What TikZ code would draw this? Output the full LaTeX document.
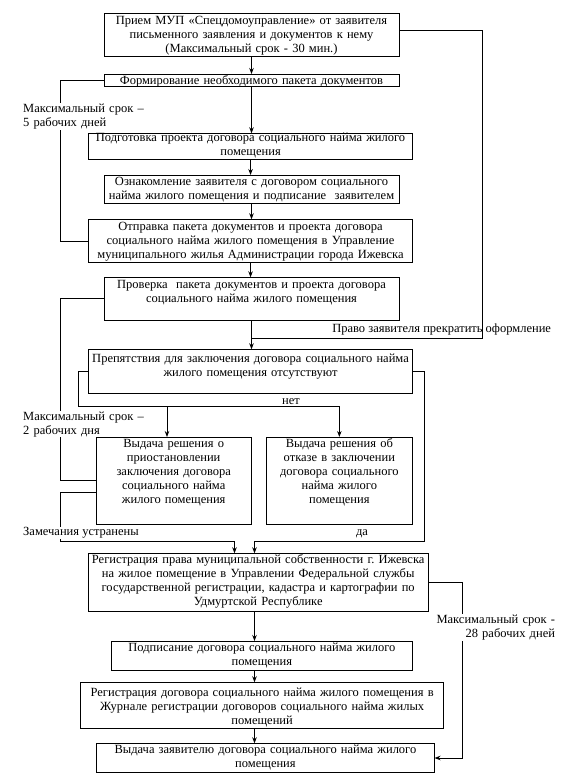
\documentclass[tikz,border=0pt]{standalone}
\usepackage{fontspec}
\setmainfont{Liberation Serif}
\usetikzlibrary{arrows.meta}
\newlength{\du}
\setlength{\du}{1pt}
\tikzset{
  blk/.style={draw, line width=0.9pt, align=center, anchor=north west,
    inner sep=0pt, outer sep=0pt, font=\fontsize{12.5}{14}\selectfont},
  note/.style={inner sep=0.5pt, font=\fontsize{12.5}{14}\selectfont},
  ln/.style={line width=0.9pt},
  arr/.style={ln, -{Stealth[length=6pt,width=4.5pt]}},
}

\begin{document}
\begin{tikzpicture}
\pgftransformyscale{-1.000000}
\useasboundingbox (0\du,0\du) rectangle (571\du,780\du);
% boxes
\node[blk, text width=295\du, text height=11\du, text depth=31.7\du] (b1) at (104\du,13.3\du)
  {Прием МУП «Спецдомоуправление» от заявителя\\письменного заявления и документов к нему\\(Максимальный срок - 30 мин.)};
\node[blk, text width=295\du, text height=10\du, text depth=2.7\du] (b2) at (104\du,74\du)
  {Формирование необходимого пакета документов};
\node[blk, text width=324.3\du, text height=8\du, text depth=17.7\du] (b3) at (88.4\du,133.3\du)
  {Подготовка проекта договора социального найма жилого\\помещения};
\node[blk, text width=295\du, text height=10.8\du, text depth=17.5\du] (b4) at (104\du,175\du)
  {Ознакомление заявителя с договором социального\\найма жилого помещения и подписание~ заявителем};
\node[blk, text width=324.3\du, text height=11\du, text depth=32.4\du] (b5) at (88.4\du,219.3\du)
  {Отправка пакета документов и проекта договора\\социального найма жилого помещения в Управление\\муниципального жилья Администрации города Ижевска};
\node[blk, text width=295\du, text height=11.2\du, text depth=31.5\du] (b6) at (104\du,277.3\du)
  {Проверка~ пакета документов и проекта договора\\социального найма жилого помещения};
\node[blk, text width=324.3\du, text height=13\du, text depth=31\du] (b7) at (88.4\du,349.3\du)
  {Препятствия для заключения договора социального найма\\жилого помещения отсутствуют};
\node[blk, text width=154.6\du, text height=10\du, text depth=77\du] (b8) at (96.4\du,437\du)
  {Выдача решения о\\приостановлении\\заключения договора\\социального найма\\жилого помещения};
\node[blk, text width=146.7\du, text height=10\du, text depth=77\du] (b9) at (266\du,437\du)
  {Выдача решения об\\отказе в заключении\\договора социального\\найма жилого\\помещения};
\node[blk, text width=339.6\du, text height=10.2\du, text depth=47.5\du] (b10) at (88.4\du,553.3\du)
  {Регистрация права муниципальной собственности г.~Ижевска\\на жилое помещение в Управлении Федеральной службы\\государственной регистрации, кадастра и картографии по\\Удмуртской Республике};
\node[blk, text width=301.7\du, text height=10.8\du, text depth=18.2\du] (b11) at (111\du,641\du)
  {Подписание договора социального найма жилого\\помещения};
\node[blk, text width=362.9\du, text height=13.9\du, text depth=32.1\du] (b12) at (80.7\du,682.3\du)
  {Регистрация договора социального найма жилого помещения в\\Журнале регистрации договоров социального найма жилых\\помещений};
\node[blk, text width=338.1\du, text height=10.2\du, text depth=19.2\du] (b13) at (96.4\du,743.3\du)
  {Выдача заявителю договора социального найма жилого\\помещения};
% bend points
\coordinate (r1) at (482\du,30.7\du);
\coordinate (r2) at (482\du,338\du);
\coordinate (lft) at (60\du,0\du);
\coordinate (fk) at (78\du,406.5\du);
\coordinate (fk2) at (167\du,406.5\du);
\coordinate (z0) at (60\du,492.7\du);
\coordinate (z1) at (234.5\du,541\du);
\coordinate (z2) at (424\du,541\du);
\coordinate (ax) at (254.5\du,0\du);
\coordinate (rx) at (462.5\du,0\du);
% main chain
\draw[arr] (b1.south) -- (b1.south |- b2.north);
\draw[arr] (b2.south) -- (b2.south |- b3.north);
\draw[arr] (b3.south) -- (b3.south |- b4.north);
\draw[arr] (b4.south) -- (b4.south |- b5.north);
\draw[arr] (b5.south) -- (b5.south |- b6.north);
\draw[arr] (b6.south) -- (b6.south |- b7.north);
\draw[arr] (b10.south -| ax) -- (ax |- b11.north);
\draw[arr] (b11.south -| ax) -- (ax |- b12.north);
\draw[arr] (b12.south -| ax) -- (ax |- b13.north);
% side lines
\draw[ln] (b1.east |- r1) -- (r1) -- (r2) -- (b6.south |- r2);
\draw[ln] (b2.west) -| (lft |- b5.west) -- (b5.west);
\draw[ln] (b6.west) -| (lft |- b8.west) -- (b8.west);
\draw[arr] (b7.west) -| (fk) -| (b9.north);
\draw[arr] (fk2) -- (fk2 |- b8.north);
\draw[arr] (b8.west |- z0) -- (z0) |- (z1) -- (z1 |- b10.north);
\draw[arr] (b7.east) -| (z2) -- (z2 -| ax) -- (ax |- b10.north);
\draw[arr] (b10.east) -| (rx |- b13.east) -- (b13.east);
% labels
\node[note, fill=white, text width=124\du, align=left, anchor=base west] (t1) at (22.5\du,112.5\du)
  {Максимальный срок –\\5 рабочих дней};
\node[note, fill=white, text width=124\du, align=left, anchor=base west] (t2) at (22.5\du,420\du)
  {Максимальный срок –\\2 рабочих дня};
\node[note, fill=white, anchor=base west] (t3) at (22.5\du,535.5\du) {Замечания устранены};
\node[note, anchor=base] (t4) at (362\du,535.5\du) {да};
\node[note, anchor=base] (t5) at (291\du,404\du) {нет};
\node[note, anchor=base west] (t6) at (331.6\du,332.5\du) {Право заявителя прекратить оформление};
\node[note, fill=white, text width=124\du, align=right, anchor=base east] (t7) at (555.7\du,623.5\du)
  {Максимальный срок -\\28 рабочих дней};
\end{tikzpicture}
\end{document}
